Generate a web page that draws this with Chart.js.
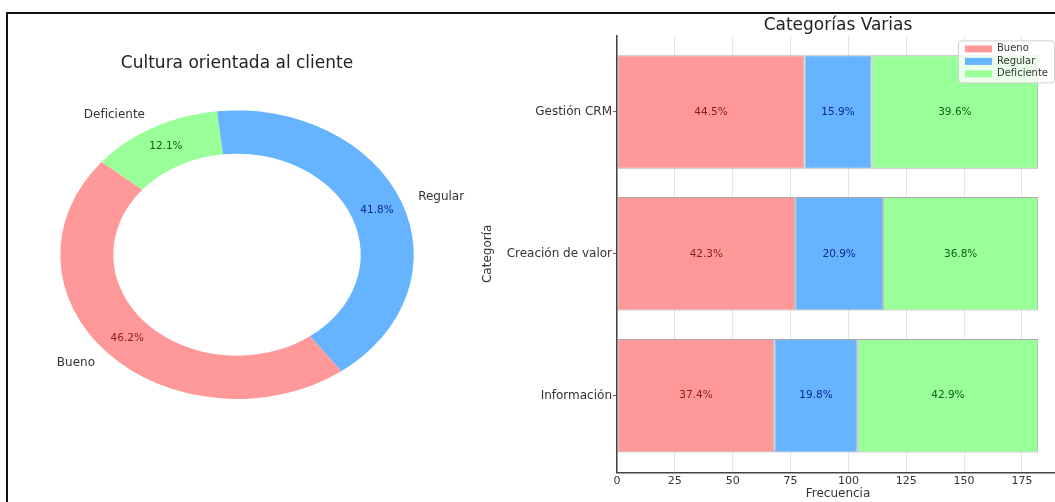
<!DOCTYPE html>
<html lang="es">
<head>
<meta charset="UTF-8">
<title>Cultura orientada al cliente / Categorías Varias</title>
<script src="https://cdn.jsdelivr.net/npm/chart.js"></script>
<style>
  html, body { margin: 0; padding: 0; background: #fff; overflow: hidden; }
  body { width: 1055px; height: 502px; position: relative; }
  canvas { position: absolute; top: 0; }
  #pieChart { left: 0; }
  #barChart { left: 480px; }
  .frame {
    position: absolute; left: 6px; top: 12px; right: -20px; bottom: -20px;
    border-top: 2px solid #111; border-left: 2px solid #111;
    pointer-events: none;
  }
</style>
</head>
<body>
  <canvas id="pieChart" width="520" height="502"></canvas>
  <canvas id="barChart" width="580" height="502"></canvas>
  <div class="frame"></div>

<script>
// donut: overall answers
const pieLabels = ['Bueno', 'Regular', 'Deficiente'];
const pieCounts = [84, 76, 22];

// stacked bars, one row per category
const categories = ['Gestión CRM', 'Creación de valor', 'Información'];
const bueno = [81, 77, 68];
const regular = [29, 38, 36];
const deficiente = [72, 67, 78];
const xTicks = [0, 25, 50, 75, 100, 125, 150, 175];

const fills = ['#ff9999', '#66b3ff', '#99ff99'];
const pctColors = ['#8b1a1a', '#0a2a8b', '#106010'];

const FONT = "'DejaVu Sans', sans-serif";
Chart.defaults.font.family = FONT;
Chart.defaults.color = '#333';

const pct = (v, total) => (v / total * 100).toFixed(1) + '%';

// ---------- donut ----------
const STRETCH = 177 / 144.5;   // donut is drawn a bit wider than tall
const order = [2, 1, 0];        // clockwise: Deficiente, Regular, Bueno

const ellipse = {
  id: 'ellipse',
  beforeDatasetsDraw(chart) {
    const a = chart.getDatasetMeta(0).data[0];
    const ctx = chart.ctx;
    ctx.save();
    ctx.translate(a.x, a.y);
    ctx.scale(STRETCH, 1);
    ctx.translate(-a.x, -a.y);
  },
  afterDatasetsDraw(chart) {
    chart.ctx.restore();
  }
};

const pieText = {
  id: 'pieText',
  afterDraw(chart) {
    const ctx = chart.ctx;
    const ds = chart.data.datasets[0];
    const total = ds.data.reduce((s, v) => s + v, 0);
    ctx.save();
    ctx.textBaseline = 'middle';
    chart.getDatasetMeta(0).data.forEach((arc, i) => {
      const mid = (arc.startAngle + arc.endAngle) / 2;
      const c = Math.cos(mid), s = Math.sin(mid);
      const R = arc.outerRadius;
      // category name outside the ring
      ctx.font = '12px ' + FONT;
      ctx.fillStyle = '#333';
      ctx.textAlign = c > 0 ? 'left' : 'right';
      ctx.fillText(chart.data.labels[i], arc.x + c * R * 1.1 * STRETCH, arc.y + s * R * 1.1);
      // share inside the ring
      ctx.font = '10.5px ' + FONT;
      ctx.fillStyle = ds.pctColor[i];
      ctx.textAlign = 'center';
      ctx.fillText(pct(ds.data[i], total), arc.x + c * R * 0.85 * STRETCH, arc.y + s * R * 0.85);
    });
    ctx.restore();
  }
};

new Chart(document.getElementById('pieChart'), {
  type: 'doughnut',
  data: {
    labels: order.map(i => pieLabels[i]),
    datasets: [{
      data: order.map(i => pieCounts[i]),
      backgroundColor: order.map(i => fills[i]),
      pctColor: order.map(i => pctColors[i]),
      borderWidth: 0,
      clip: false
    }]
  },
  options: {
    responsive: false,
    animation: false,
    events: [],
    rotation: -50,
    cutout: '70%',
    layout: { padding: { left: 60, right: 106, top: 53, bottom: 103 } },
    plugins: {
      legend: { display: false },
      tooltip: { enabled: false },
      title: {
        display: true,
        text: 'Cultura orientada al cliente',
        color: '#222',
        font: { size: 17, weight: 'normal' },
        padding: { top: 0, bottom: 37 }
      }
    }
  },
  plugins: [ellipse, pieText]
});

// ---------- stacked bars ----------
const series = [
  { label: 'Bueno', values: bueno },
  { label: 'Regular', values: regular },
  { label: 'Deficiente', values: deficiente }
];

const barText = {
  id: 'barText',
  afterDatasetsDraw(chart) {
    const ctx = chart.ctx;
    const totals = categories.map((_, j) => series.reduce((s, d) => s + d.values[j], 0));
    ctx.save();
    ctx.font = '10.5px ' + FONT;
    ctx.textAlign = 'center';
    ctx.textBaseline = 'middle';
    chart.data.datasets.forEach((ds, i) => {
      ctx.fillStyle = pctColors[i];
      chart.getDatasetMeta(i).data.forEach((bar, j) => {
        ctx.fillText(pct(series[i].values[j], totals[j]), (bar.x + bar.base) / 2, bar.y);
      });
    });
    ctx.restore();
  }
};

const boxLegend = {
  id: 'boxLegend',
  afterDraw(chart) {
    const ctx = chart.ctx;
    const area = chart.chartArea;
    const w = 96, h = 42;
    const x0 = area.right - 5 - w, y0 = area.top + 5;
    ctx.save();
    ctx.fillStyle = 'rgba(255,255,255,0.8)';
    ctx.strokeStyle = '#d0d0d0';
    ctx.lineWidth = 1;
    ctx.beginPath();
    ctx.roundRect(x0 + 0.5, y0 + 0.5, w, h, 3);
    ctx.fill();
    ctx.stroke();
    ctx.font = '10px ' + FONT;
    ctx.textBaseline = 'middle';
    ctx.textAlign = 'left';
    chart.data.datasets.forEach((ds, i) => {
      const cy = y0 + 8.5 + i * 12.5;
      ctx.fillStyle = ds.backgroundColor;
      ctx.fillRect(x0 + 7, cy - 3.5, 27, 7);
      ctx.fillStyle = '#333';
      ctx.fillText(ds.label, x0 + 39, cy);
    });
    ctx.restore();
  }
};

new Chart(document.getElementById('barChart'), {
  type: 'bar',
  data: {
    datasets: series.map((s, i) => ({
      label: s.label,
      data: s.values.map((v, j) => ({ x: v, y: j })),
      backgroundColor: fills[i],
      borderColor: 'rgba(70,70,70,0.45)',
      borderWidth: 1,
      borderSkipped: false,
      categoryPercentage: 1,
      barPercentage: 0.8
    }))
  },
  options: {
    indexAxis: 'y',
    responsive: false,
    animation: false,
    events: [],
    layout: { padding: { left: 0, right: 1, top: 15, bottom: 0 } },
    scales: {
      x: {
        type: 'linear',
        stacked: true,
        min: 0,
        max: 191,
        afterBuildTicks: s => { s.ticks = xTicks.map(v => ({ value: v })); },
        ticks: { font: { size: 11 }, color: '#333', padding: 2, maxRotation: 0 },
        grid: { color: '#e6e6e6', drawTicks: false },
        border: { color: '#444', width: 1.5 },
        title: {
          display: true, text: 'Frecuencia', color: '#333',
          font: { size: 12 }, padding: { top: 0, bottom: 1 }
        },
        afterFit: s => { s.height = 29.7; }
      },
      y: {
        type: 'linear',
        stacked: true,
        reverse: true,
        offset: false,
        min: -0.54,
        max: 2.54,
        afterBuildTicks: s => { s.ticks = categories.map((_, j) => ({ value: j })); },
        ticks: {
          font: { size: 12 }, color: '#333', padding: 1,
          callback: v => categories[v]
        },
        grid: { offset: false, drawOnChartArea: false, drawTicks: true, tickLength: 4, color: '#666' },
        border: { color: '#444', width: 1.5 },
        title: {
          display: true, text: 'Categoría', color: '#333',
          font: { size: 12 }, padding: { top: 1, bottom: 0 }
        },
        afterFit: s => { s.width = 137; }
      }
    },
    plugins: {
      legend: { display: false },
      tooltip: { enabled: false },
      title: {
        display: true,
        fullSize: false,
        text: 'Categorías Varias',
        color: '#222',
        font: { size: 17, weight: 'normal' },
        padding: { top: 0, bottom: 0 }
      }
    }
  },
  plugins: [barText, boxLegend]
});
</script>
</body>
</html>
